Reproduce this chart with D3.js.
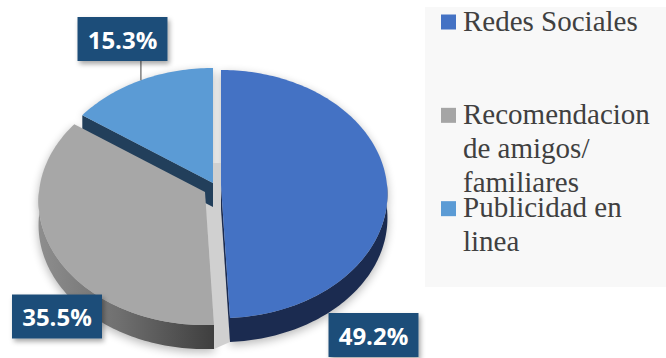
<!DOCTYPE html>
<html>
<head>
<meta charset="utf-8">
<script src="https://cdn.jsdelivr.net/npm/d3@7"></script>
<style>
  html, body { margin: 0; padding: 0; background: #ffffff; }
  svg { display: block; }
  .legend-text { font-family: "Liberation Serif", "Times New Roman", Tinos, "DejaVu Serif", serif; font-size: 29px; fill: #404040; }
  .value-text { font-family: "Open Sans", "Noto Sans", sans-serif; font-weight: 700; font-size: 24px; fill: #ffffff; }
</style>
</head>
<body>
<script>
// ---- data ----
const categories = ["Redes Sociales", "Recomendacion de amigos/ familiares", "Publicidad en linea"];
const legendLines = [["Redes Sociales"], ["Recomendacion", "de amigos/", "familiares"], ["Publicidad en", "linea"]];
const shares = [49.2, 35.5, 15.3];
const valueLabels = ["49.2%", "35.5%", "15.3%"];

// ---- styling ----
const topColors  = ["#4472C4", "#A7A7A7", "#5B9BD5"];
const sideColors = ["#1B2B50", "url(#graySide)", "#223F5B"];
const legendColors = ["#4472C4", "#A5A5A5", "#5B9BD5"];

const W = 666, H = 358;
const center = [213, 188];
// per-slice explode offsets (pixels)
const explode = [[8, -3], [-8, 4], [0, -5]];
const RX = 166, RY = 123.4, PERSP = 0.0728, DEPTH = 24;
// label boxes (centre positions)
const labelPos = [[373.5, 335], [57, 316.5], [122.5, 39]];
const BOX_W = 90, BOX_H = 44;

const svg = d3.select("body").append("svg").attr("width", W).attr("height", H);
const defs = svg.append("defs");

const g1 = defs.append("linearGradient").attr("id", "graySide")
  .attr("gradientUnits", "userSpaceOnUse").attr("x1", 38).attr("y1", 0).attr("x2", 215).attr("y2", 0);
g1.append("stop").attr("offset", "0%").attr("stop-color", "#8E8E8E");
g1.append("stop").attr("offset", "45%").attr("stop-color", "#707070");
g1.append("stop").attr("offset", "100%").attr("stop-color", "#3E3E3E");

const blur = defs.append("filter").attr("id", "soft").attr("x", "-20%").attr("y", "-20%").attr("width", "140%").attr("height", "140%");
blur.append("feGaussianBlur").attr("stdDeviation", 5);

const boxShadow = defs.append("filter").attr("id", "boxShadow").attr("x", "-20%").attr("y", "-20%").attr("width", "150%").attr("height", "160%");
boxShadow.append("feDropShadow").attr("dx", 2).attr("dy", 3).attr("stdDeviation", 2.5)
  .attr("flood-color", "#000").attr("flood-opacity", 0.35);

// ---- legend ----
const legend = svg.append("g");
legend.append("rect").attr("x", 425).attr("y", 7).attr("width", 241).attr("height", 280).attr("fill", "#F8F8F8");
const legendScale = d3.scaleBand().domain(categories).range([-31.5, 248.5]);
categories.forEach((c, i) => {
  const base = legendScale(c) + 62;
  legend.append("rect").attr("x", 441).attr("y", base - 16).attr("width", 15).attr("height", 15)
    .attr("fill", legendColors[i]);
  const t = legend.append("text").attr("class", "legend-text").attr("x", 463).attr("y", base);
  legendLines[i].forEach((ln, j) => {
    t.append("tspan").attr("x", 463).attr("y", base + j * 34).text(ln);
  });
});

// ---- pie geometry ----
const pie = d3.pie().sort(null).value(d => d).startAngle(0).endAngle(2 * Math.PI);
const arcs = pie(shares);

function vertexOf(i) { return [center[0] + explode[i][0], center[1] + explode[i][1]]; }
function proj(V, a) {
  const c = Math.cos(a), s = 1 / (1 + PERSP * c);
  return [V[0] + RX * Math.sin(a) * s, V[1] - RY * c * s];
}
function rim(V, a0, a1) {
  const n = Math.max(2, Math.ceil((a1 - a0) / 0.02));
  return d3.range(n + 1).map(j => proj(V, a0 + (a1 - a0) * j / n));
}
const down = p => [p[0], p[1] + DEPTH];
const line = d3.line();
const poly = pts => line(pts) + "Z";

function topPath(i) {
  const V = vertexOf(i);
  return poly([V, ...rim(V, arcs[i].startAngle, arcs[i].endAngle)]);
}
function sidePath(i) {
  const V = vertexOf(i);
  const b0 = Math.max(arcs[i].startAngle, Math.PI / 2), b1 = Math.min(arcs[i].endAngle, 3 * Math.PI / 2);
  if (b1 <= b0) return null;
  const r = rim(V, b0, b1);
  return poly([...r, ...r.slice().reverse().map(down)]);
}
function cutFace(i, a) {
  const V = vertexOf(i), P = proj(V, a);
  return poly([V, P, down(P), down(V)]);
}

const pieG = svg.append("g");

// soft outer shadow
const shadow = pieG.append("g").attr("filter", "url(#soft)").attr("opacity", 0.28).attr("transform", "translate(0,3)");
arcs.forEach((a, i) => {
  shadow.append("path").attr("d", topPath(i)).attr("fill", "#000");
  shadow.append("path").attr("d", topPath(i)).attr("transform", `translate(0,${DEPTH})`).attr("fill", "#000");
  const sp = sidePath(i);
  if (sp) shadow.append("path").attr("d", sp).attr("fill", "#000");
});

// light cut face between the grey and dark blue slices
{
  const Vb = vertexOf(0), Vg = vertexOf(1), Vl = vertexOf(2);
  const Pb = proj(Vb, arcs[0].endAngle), Pg = proj(Vg, arcs[1].startAngle);
  pieG.append("path")
    .attr("d", poly([[Vl[0], Vl[1] - 20], [Vb[0], Vl[1] - 20], Vb, Pb, down(Pb), down(Pg), Pg, Vg]))
    .attr("fill", "#D0D0D0");
}

// light blue slice (back)
pieG.append("path").attr("d", cutFace(2, arcs[2].startAngle)).attr("fill", sideColors[2]);
pieG.append("path").attr("d", topPath(2)).attr("fill", topColors[2]);

// grey slice
pieG.append("path").attr("d", sidePath(1)).attr("fill", sideColors[1]);
pieG.append("path").attr("d", topPath(1)).attr("fill", topColors[1]);

// dark blue slice
pieG.append("path").attr("d", sidePath(0)).attr("fill", sideColors[0]);
pieG.append("path").attr("d", cutFace(0, arcs[0].endAngle)).attr("fill", sideColors[0]);
pieG.append("path").attr("d", topPath(0)).attr("fill", topColors[0]);

// ---- value labels ----
const lblG = svg.append("g");
// leader line for the small slice
{
  const i = 2, V = vertexOf(i);
  const mid = (arcs[i].startAngle + arcs[i].endAngle) / 2;
  const P = proj(V, mid);
  lblG.append("line").attr("x1", P[0]).attr("y1", P[1])
    .attr("x2", P[0]).attr("y2", labelPos[i][1] + BOX_H / 2)
    .attr("stroke", "#5F5F5F").attr("stroke-width", 1.2);
}
arcs.forEach((a, i) => {
  const [cx, cy] = labelPos[i];
  lblG.append("rect").attr("x", cx - BOX_W / 2).attr("y", cy - BOX_H / 2)
    .attr("width", BOX_W).attr("height", BOX_H).attr("fill", "#1F4E79")
    .attr("filter", "url(#boxShadow)");
  lblG.append("text").attr("class", "value-text").attr("x", cx).attr("y", cy + 9.5)
    .attr("text-anchor", "middle").text(valueLabels[i]);
});
</script>
</body>
</html>
